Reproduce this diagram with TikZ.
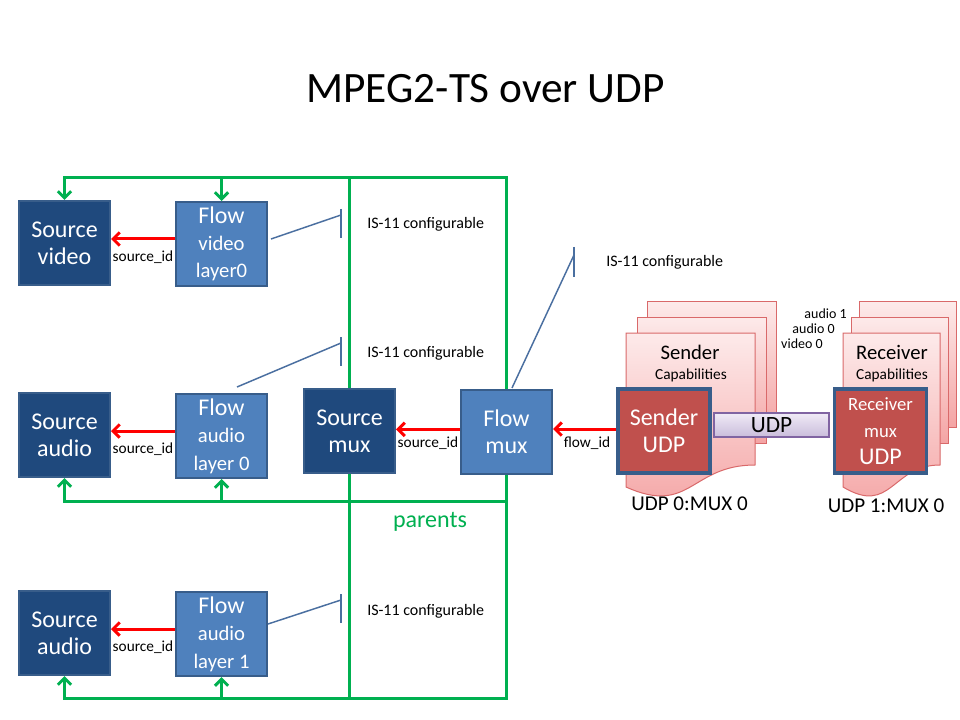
\documentclass[tikz,border=0pt]{standalone}
\usepackage{fontspec}
\setmainfont{Carlito}
\usetikzlibrary{arrows.meta,calc,backgrounds}
\definecolor{srcblue}{HTML}{1F497D}
\definecolor{flowblue}{HTML}{4F81BD}
\definecolor{edgeblue}{HTML}{385D8A}
\definecolor{pgreen}{HTML}{00B050}
\definecolor{isblue}{HTML}{4A6FA0}
\definecolor{sendred}{HTML}{C0504D}
\definecolor{pageedge}{HTML}{D9696A}
\definecolor{pagetop}{HTML}{FDEAEA}
\definecolor{pagebot}{HTML}{F4A4A4}
\definecolor{udptop}{HTML}{F0EBF6}
\definecolor{udpbot}{HTML}{C9BCDB}
\definecolor{udpedge}{HTML}{8064A2}
\newcommand{\flowsmall}{\fontsize{15.5}{18}\selectfont}
\newcommand{\rcvsmall}{\fontsize{14}{17}\selectfont}
\begin{document}
\begin{tikzpicture}[x=0.75pt,y=-0.75pt,
 box/.style={draw=edgeblue,line width=1.5pt,minimum width=68.25pt,minimum height=63pt,inner sep=0pt,text=white,align=center,font=\fontsize{18}{20.5}\selectfont},
 srcbox/.style={box,fill=srcblue},
 flowbox/.style={box,fill=flowblue},
 udpbox/.style={box,fill=sendred,line width=2.4pt,minimum width=69pt},
 parentline/.style={pgreen,line width=2.25pt},
 parentarrow/.style={parentline,-{Straight Barb[length=5pt,width=10pt]}},
 idarrow/.style={red,line width=2.25pt,-{Straight Barb[length=5pt,width=10pt]}},
 idlabel/.style={font=\fontsize{11.5}{13}\selectfont,inner sep=0pt},
 isline/.style={isblue,line width=1.1pt},
 islabel/.style={font=\fontsize{12}{14}\selectfont,anchor=west,inner sep=0pt},
 page/.style={draw=pageedge,line width=0.75pt,top color=pagetop,bottom color=pagebot},
 smalllbl/.style={font=\fontsize{10.5}{12}\selectfont,inner sep=0pt,anchor=east},
]
\useasboundingbox (0,0) rectangle (960,720);

% title
\node[font=\fontsize{32.5}{38}\selectfont,anchor=base,inner sep=0pt] (title) at (485.5,103) {MPEG2-TS over UDP};

% blue boxes
\node[srcbox] (sv) at (64.5,243) {Source\\video};
\node[flowbox] (fv) at (221.5,244) {Flow\\\flowsmall video\\\flowsmall layer0};
\node[srcbox] (sa0) at (64.5,435) {Source\\audio};
\node[flowbox] (fa0) at (221.5,436) {Flow\\\flowsmall audio\\\flowsmall layer 0};
\node[srcbox] (smux) at (349.5,431) {Source\\mux};
\node[flowbox] (fmux) at (506.5,432) {Flow\\mux};
\node[srcbox] (sa1) at (64.5,633) {Source\\audio};
\node[flowbox] (fa1) at (221.5,634) {Flow\\\flowsmall audio\\\flowsmall layer 1};

% bus coordinates
\coordinate (tA) at (349.5,178);
\coordinate (tB) at (506.5,178);
\coordinate (bA) at (349.5,698);
\coordinate (bB) at (506.5,698);
\coordinate (mB) at (506.5,501);

\begin{scope}[on background layer]
\fill[white] (0,0) rectangle (960,720);
\draw[parentline] (tA) -- (bA);
\draw[parentline,{Straight Barb[length=5pt,width=10pt]}-{Straight Barb[length=5pt,width=10pt]}]
  (sv.north) -- (sv.north |- tA) -- (tB) -- (bB) -- (sa1.south |- bB) -- (sa1.south);
\draw[parentarrow] (fv.north |- tA) -- (fv.north);
\draw[parentarrow] (mB) -- (sa0.south |- mB) -- (sa0.south);
\draw[parentarrow] (fa0.south |- mB) -- (fa0.south);
\draw[parentarrow] (fa1.south |- bB) -- (fa1.south);
\end{scope}
\node[text=pgreen,font=\fontsize{18}{21}\selectfont,inner sep=0pt] (parents) at (430,522) {parents};

% red id arrows
\draw[idarrow] ([yshift=3pt]sv.east -| fv.west) -- ([yshift=3pt]sv.east);
\draw[idarrow] ([yshift=3pt]sa0.east -| fa0.west) -- ([yshift=3pt]sa0.east);
\draw[idarrow] ([yshift=3pt]sa1.east -| fa1.west) -- ([yshift=3pt]sa1.east);
\draw[idarrow] ([yshift=2pt]fmux.west) -- ([yshift=2pt]fmux.west -| smux.east);
\node[idlabel] (id1) at (143,257) {source\_id};
\node[idlabel] (id2) at (143,449) {source\_id};
\node[idlabel] (id3) at (143,647) {source\_id};
\node[idlabel] (id4) at (428,443) {source\_id};

% IS-11 lines
\coordinate (k1) at (341,215);
\coordinate (k2) at (341,343);
\coordinate (k3) at (341,600);
\coordinate (k4) at (574,255);
\draw[isline] ($(fv.east)+(3,-5)$) -- (k1);
\draw[isline] ($(k1)+(0,-6)$) -- ($(k1)+(0,23)$);
\draw[isline] ($(fa0.north)+(15.5,-6)$) -- (k2);
\draw[isline] ($(k2)+(0,-6)$) -- ($(k2)+(0,23)$);
\draw[isline] ($(fa1.east)+(0,-10)$) -- (k3);
\draw[isline] ($(k3)+(0,-6)$) -- ($(k3)+(0,23)$);
\draw[isline] ($(fmux.north)+(5.5,-1)$) -- (k4);
\draw[isline] ($(k4)+(0,-8)$) -- ($(k4)+(0,22)$);
\node[islabel] (is1) at (367,224) {IS-11 configurable};
\node[islabel] (is2) at (367,353) {IS-11 configurable};
\node[islabel] (is3) at (367,611) {IS-11 configurable};
\node[islabel] (is4) at (606,262) {IS-11 configurable};

% sender pages
\path[page] (647,302) rectangle (776,430);
\path[page] (637,317) rectangle (766,443);
\path[page] (626,333) -- (755,333) -- (755,465) .. controls (690.5,465) and (690.5,516) .. (626,487) -- cycle;
\node[font=\fontsize{15.5}{18}\selectfont,inner sep=0pt] (scap) at (690,352) {Sender};
\node[font=\fontsize{11.5}{14}\selectfont,inner sep=0pt] (scap2) at (691,375) {Capabilities};

% receiver pages
\path[page] (859,302) rectangle (956,427);
\path[page] (851,317) rectangle (948,443);
\path[page] (843,333) -- (940,333) -- (940,465) .. controls (891.5,465) and (891.5,516) .. (843,487) -- cycle;
\node[font=\fontsize{15.5}{18}\selectfont,inner sep=0pt] (rcap) at (892,352) {Receiver};
\node[font=\fontsize{11.5}{14}\selectfont,inner sep=0pt] (rcap2) at (892,375) {Capabilities};

\node[smalllbl] (l1) at (847,314) {audio 1};
\node[smalllbl] (l2) at (835,329) {audio 0};
\node[smalllbl] (l3) at (823,344) {video 0};

% sender / receiver
\node[udpbox] (sudp) at (664,431) {Sender\\UDP};
\node[udpbox] (rudp) at (880.5,431) {\rcvsmall Receiver\\\rcvsmall mux\\UDP};
\node[draw=udpedge,line width=1pt,top color=udptop,bottom color=udpbot,minimum width=86.25pt,minimum height=18pt,inner sep=0pt,font=\fontsize{17.5}{20}\selectfont] (udp) at (771.5,425) {UDP};

\draw[idarrow] ([yshift=1.5pt]sudp.west) -- ([yshift=1.5pt]sudp.west -| fmux.east);
\node[idlabel] (id5) at (587,443) {flow\_id};

\node[font=\fontsize{15.8}{18}\selectfont,inner sep=0pt] (u0) at (689.5,504) {UDP 0:MUX 0};
\node[font=\fontsize{15.8}{18}\selectfont,inner sep=0pt] (u1) at (886,506) {UDP 1:MUX 0};
\end{tikzpicture}
\end{document}
